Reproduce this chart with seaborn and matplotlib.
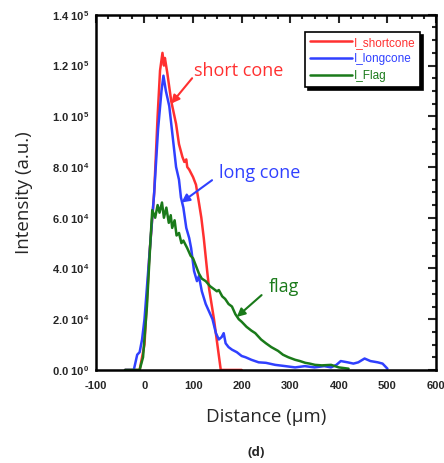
import matplotlib.pyplot as plt
import seaborn as sns
import pandas as pd
import numpy as np

# Data (x in um, y in units of 1e4)
short_x = [-40, -10, 0, 10, 20, 27, 32, 37, 40, 42, 47, 55, 65, 71, 78, 82, 86, 88, 92,
           100, 106, 112, 117, 122, 129, 133, 143, 150, 157, 165, 200]
short_y = [0, 0, 1.0, 4.5, 7.0, 10.0, 11.8, 12.5, 12.0, 12.3, 11.7, 10.6, 9.7, 8.9, 8.4,
           8.2, 8.3, 8.0, 7.9, 7.6, 7.3, 6.6, 6.0, 5.2, 3.9, 3.2, 2.0, 1.0, 0, 0, 0]

long_x = [-40, -22, -15, -10, -5, 0, 10, 20, 28, 35, 39, 44, 51, 58, 65, 71, 75, 80, 86,
          92, 96, 102, 108, 112, 118, 126, 133, 140, 147, 153, 159, 163, 167, 173, 180,
          190, 200, 208, 220, 235, 250, 269, 290, 310, 330, 350, 370, 384, 395, 404, 418,
          430, 440, 453, 465, 480, 490, 500]
long_y = [0, 0, 0.6, 0.7, 1.2, 2.0, 4.5, 7.0, 9.5, 11.0, 11.6, 11.0, 10.4, 9.2, 8.0, 7.5,
          6.8, 6.4, 5.6, 5.2, 4.8, 3.9, 3.5, 3.7, 3.1, 2.6, 2.3, 2.0, 1.45, 1.2, 1.3, 1.45,
          1.05, 0.9, 0.8, 0.7, 0.55, 0.5, 0.4, 0.3, 0.28, 0.2, 0.15, 0.1, 0.15, 0.1, 0.15,
          0.1, 0.2, 0.35, 0.3, 0.25, 0.3, 0.45, 0.35, 0.3, 0.25, 0.05]

flag_x = [-40, -10, -3, 5, 12, 16, 22, 27, 31, 36, 40, 45, 50, 54, 57, 62, 66, 71, 76, 80,
          88, 95, 100, 106, 112, 118, 126, 135, 142, 149, 153, 160, 166, 173, 180, 187,
          194, 200, 210, 220, 228, 240, 250, 261, 275, 285, 296, 310, 320, 331, 340, 351,
          365, 384, 400, 420]
flag_y = [0, 0, 0.5, 2.5, 5.0, 6.3, 6.0, 6.5, 6.2, 6.6, 6.0, 6.4, 5.8, 6.1, 5.6, 5.9, 5.3,
          5.4, 5.0, 5.1, 4.8, 4.5, 4.4, 4.1, 3.8, 3.6, 3.5, 3.3, 3.2, 3.1, 3.15, 2.9, 2.8,
          2.6, 2.5, 2.2, 2.0, 1.9, 1.7, 1.55, 1.45, 1.2, 1.05, 0.9, 0.75, 0.6, 0.5, 0.4,
          0.35, 0.28, 0.25, 0.2, 0.18, 0.2, 0.1, 0.05]

series_names = ['I_shortcone', 'I_longcone', 'I_Flag']
series_colors = ['#ff3030', '#3040ff', '#1a7a1a']

x_ticks = [-100, 0, 100, 200, 300, 400, 500, 600]
y_ticks = [0, 2e4, 4e4, 6e4, 8e4, 1e5, 1.2e5, 1.4e5]
y_ticklabels = ['0.0 10$^{0}$', '2.0 10$^{4}$', '4.0 10$^{4}$', '6.0 10$^{4}$',
                '8.0 10$^{4}$', '1.0 10$^{5}$', '1.2 10$^{5}$', '1.4 10$^{5}$']

# annotation: text, text pos, arrow tail, arrow tip (data units)
notes = [('short cone', (102, 1.18e5), (98, 1.15e5), (55, 1.05e5)),
         ('long cone', (153, 7.75e4), (139, 7.48e4), (76, 6.6e4)),
         ('flag', (255, 3.27e4), (241, 2.95e4), (190, 2.09e4))]

sns.set_style("white")
plt.rcParams.update({'mathtext.fontset': 'custom',
                     'mathtext.rm': 'Liberation Sans:bold',
                     'mathtext.default': 'rm',
                     'font.family': ['Liberation Sans', 'DejaVu Sans']})

frames = []
for name, xs, ys in zip(series_names, [short_x, long_x, flag_x], [short_y, long_y, flag_y]):
    frames.append(pd.DataFrame({'x': xs, 'y': np.array(ys) * 1e4, 'series': name}))
df = pd.concat(frames, ignore_index=True)

fig = plt.figure(figsize=(4.44, 4.63), dpi=100)
ax = fig.add_axes([0.216, 0.201, 0.766, 0.767])

sns.lineplot(data=df, x='x', y='y', hue='series', palette=series_colors,
             estimator=None, sort=False, linewidth=1.8, ax=ax)

ax.set_xlim(-100, 600)
ax.set_ylim(0, 1.4e5)
ax.set_xticks(x_ticks)
ax.set_xticklabels([str(t) for t in x_ticks])
ax.set_yticks(y_ticks)
ax.set_yticklabels(y_ticklabels)
ax.set_xticks(np.arange(-100, 601, 25), minor=True)
ax.set_yticks(np.arange(0, 1.4e5 + 1, 5e3), minor=True)
ax.tick_params(which='both', direction='in', top=True, right=True, width=1.5,
               labelsize=8)
ax.tick_params(which='major', length=6)
ax.tick_params(axis='x', which='major', pad=8)
ax.tick_params(axis='y', which='major', pad=5)
ax.tick_params(which='minor', length=3)
for lab in ax.get_xticklabels() + ax.get_yticklabels():
    lab.set_fontweight('bold')
for s in ax.spines.values():
    s.set_linewidth(1.8)
    s.set_color('black')

ax.set_xlabel('Distance (\u00b5m)', fontsize=13.5, family='Open Sans')
ax.xaxis.set_label_coords(0.5, -0.108)
ax.set_ylabel('Intensity (a.u.)', fontsize=13.5, family='Open Sans')
ax.yaxis.set_label_coords(-0.185, 0.5)

for (txt, tpos, tail, tip), col in zip(notes, series_colors):
    ax.text(tpos[0], tpos[1], txt, color=col, fontsize=13, family='Open Sans',
            ha='left', va='center')
    ax.annotate('', xy=tip, xytext=tail,
                arrowprops=dict(arrowstyle='-|>', color=col, lw=1.5,
                                mutation_scale=12, shrinkA=0, shrinkB=0))

ax.legend(loc='upper right', bbox_to_anchor=(0.953, 0.952), borderaxespad=0,
          fontsize=8.5, labelcolor='linecolor', fancybox=False, framealpha=1,
          edgecolor='black', shadow={'color': 'black', 'alpha': 1},
          handlelength=3.6, handletextpad=0.1, labelspacing=0.4)
ax.get_legend().get_frame().set_linewidth(1.2)

fig.text(0.577, 0.022, '(d)', fontsize=9.5, fontweight='bold', ha='center', va='center',
         family='Open Sans')

fig.savefig('out.png', dpi=100)
